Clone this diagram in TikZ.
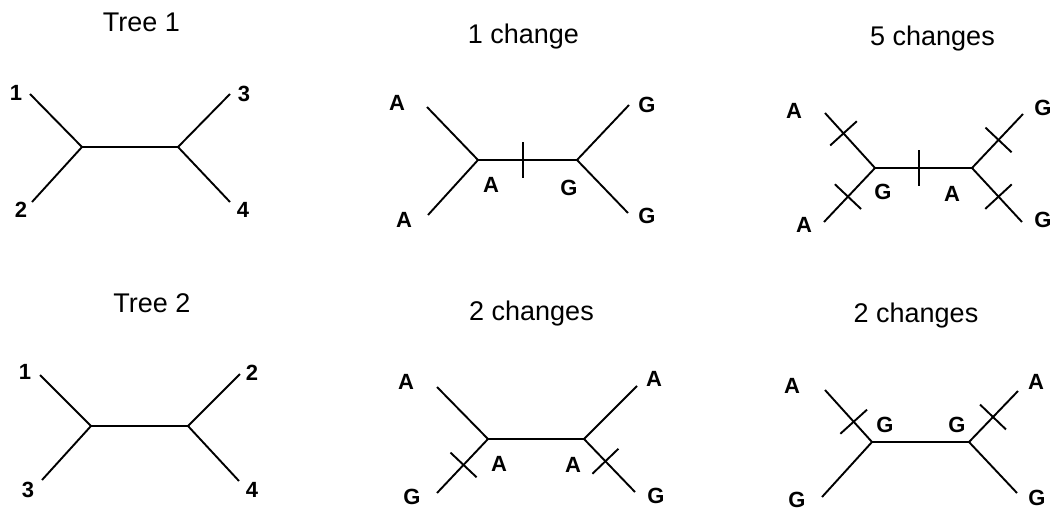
\documentclass[tikz,border=0pt]{standalone}
\usepackage{fontspec}
\setmainfont{Liberation Sans}
\usetikzlibrary{calc}

% short bar across a branch, centred on #1, square to the line towards #2
\newcommand{\changebar}[2]{\draw[branch] ($(#1)!18pt!90:(#2)$) -- ($(#1)!18pt!-90:(#2)$);}

\begin{document}
\begin{tikzpicture}[
    x=1pt, y=-1pt,
    branch/.style={line width=1.9pt, black},
    inner/.style={line width=2.9pt, black},
    heading/.style={anchor=base, inner sep=0pt, font=\fontsize{27}{31}\selectfont},
    leaflab/.style={inner sep=0pt, font=\bfseries\fontsize{22}{26}\selectfont}
]
    \useasboundingbox (0,0) rectangle (1055,511);

    % Tree 1
    \node[heading] (h1) at (141.5,32) {Tree 1};
    \coordinate (L1) at (82,147);
    \coordinate (R1) at (178,147);
    \coordinate (a1) at (30,94);
    \coordinate (b1) at (32,202);
    \coordinate (c1) at (230,94);
    \coordinate (d1) at (230,202);
    \node[leaflab] (n11) at (16,93) {1};
    \node[leaflab] (n12) at (21,210) {2};
    \node[leaflab] (n13) at (244,94) {3};
    \node[leaflab] (n14) at (243,210) {4};
    \draw[inner] (L1) -- (R1);
    \draw[branch] (L1) -- (a1);
    \draw[branch] (L1) -- (b1);
    \draw[branch] (R1) -- (c1);
    \draw[branch] (R1) -- (d1);

    % Tree 1, one change
    \node[heading] (h2) at (523.5,44) {1 change};
    \coordinate (L2) at (478,160);
    \coordinate (R2) at (577,160);
    \coordinate (a2) at (427,107);
    \coordinate (b2) at (428,215);
    \coordinate (c2) at (629,105);
    \coordinate (d2) at (628,213);
    \node[leaflab] (s2a) at (397,103) {A};
    \node[leaflab] (s2b) at (404,220) {A};
    \node[leaflab] (s2L) at (491,185) {A};
    \node[leaflab] (s2R) at (569,188) {G};
    \node[leaflab] (s2c) at (647,105) {G};
    \node[leaflab] (s2d) at (647,216) {G};
    \draw[inner] (L2) -- coordinate[pos=0.45] (m2) (R2);
    \draw[branch] (L2) -- (a2);
    \draw[branch] (L2) -- (b2);
    \draw[branch] (R2) -- (c2);
    \draw[branch] (R2) -- (d2);
    \changebar{m2}{R2}

    % Tree 1, five changes
    \node[heading] (h3) at (932.5,46) {5 changes};
    \coordinate (L3) at (875,168);
    \coordinate (R3) at (972,168);
    \coordinate (a3) at (825,113);
    \coordinate (b3) at (824,222);
    \coordinate (c3) at (1023,114);
    \coordinate (d3) at (1022,222);
    \node[leaflab] (s3a) at (794,111) {A};
    \node[leaflab] (s3b) at (804,225) {A};
    \node[leaflab] (s3L) at (883,192) {G};
    \node[leaflab] (s3R) at (952,194) {A};
    \node[leaflab] (s3c) at (1043,108) {G};
    \node[leaflab] (s3d) at (1043,220) {G};
    \draw[inner] (L3) -- coordinate[pos=0.45] (m3) (R3);
    \draw[branch] (L3) -- coordinate[pos=0.63] (x3a) (a3);
    \draw[branch] (L3) -- coordinate[pos=0.53] (x3b) (b3);
    \draw[branch] (R3) -- coordinate[pos=0.52] (x3c) (c3);
    \draw[branch] (R3) -- coordinate[pos=0.53] (x3d) (d3);
    \changebar{m3}{R3}
    \changebar{x3a}{a3}
    \changebar{x3b}{b3}
    \changebar{x3c}{c3}
    \changebar{x3d}{d3}

    % Tree 2
    \node[heading] (h4) at (152,312) {Tree 2};
    \coordinate (L4) at (91,426);
    \coordinate (R4) at (188,426);
    \coordinate (a4) at (40,375);
    \coordinate (b4) at (42,480);
    \coordinate (c4) at (240,374);
    \coordinate (d4) at (239,481);
    \node[leaflab] (n41) at (25,372) {1};
    \node[leaflab] (n43) at (28,490) {3};
    \node[leaflab] (n42) at (252,373) {2};
    \node[leaflab] (n44) at (252,490) {4};
    \draw[inner] (L4) -- (R4);
    \draw[branch] (L4) -- (a4);
    \draw[branch] (L4) -- (b4);
    \draw[branch] (R4) -- (c4);
    \draw[branch] (R4) -- (d4);

    % Tree 2, first reconstruction
    \node[heading] (h5) at (531.5,320) {2 changes};
    \coordinate (L5) at (488,439);
    \coordinate (R5) at (584,439);
    \coordinate (a5) at (437,387);
    \coordinate (b5) at (437,493);
    \coordinate (c5) at (637,386);
    \coordinate (d5) at (635,492);
    \node[leaflab] (s5a) at (406,382) {A};
    \node[leaflab] (s5b) at (412,497) {G};
    \node[leaflab] (s5L) at (499,464) {A};
    \node[leaflab] (s5R) at (573,465) {A};
    \node[leaflab] (s5c) at (654,379) {A};
    \node[leaflab] (s5d) at (656,496) {G};
    \draw[inner] (L5) -- (R5);
    \draw[branch] (L5) -- (a5);
    \draw[branch] (L5) -- coordinate[pos=0.48] (x5b) (b5);
    \draw[branch] (R5) -- (c5);
    \draw[branch] (R5) -- coordinate[pos=0.42] (x5d) (d5);
    \changebar{x5b}{b5}
    \changebar{x5d}{d5}

    % Tree 2, second reconstruction
    \node[heading] (h6) at (916,322) {2 changes};
    \coordinate (L6) at (872,442);
    \coordinate (R6) at (969,442);
    \coordinate (a6) at (825,390);
    \coordinate (b6) at (822,497);
    \coordinate (c6) at (1018,391);
    \coordinate (d6) at (1017,493);
    \node[leaflab] (s6a) at (792,386) {A};
    \node[leaflab] (s6b) at (797,500) {G};
    \node[leaflab] (s6L) at (885,425) {G};
    \node[leaflab] (s6R) at (957,425) {G};
    \node[leaflab] (s6c) at (1036,382) {A};
    \node[leaflab] (s6d) at (1037,498) {G};
    \draw[inner] (L6) -- (R6);
    \draw[branch] (L6) -- coordinate[pos=0.39] (x6a) (a6);
    \draw[branch] (L6) -- (b6);
    \draw[branch] (R6) -- coordinate[pos=0.49] (x6c) (c6);
    \draw[branch] (R6) -- (d6);
    \changebar{x6a}{a6}
    \changebar{x6c}{c6}
\end{tikzpicture}
\end{document}
